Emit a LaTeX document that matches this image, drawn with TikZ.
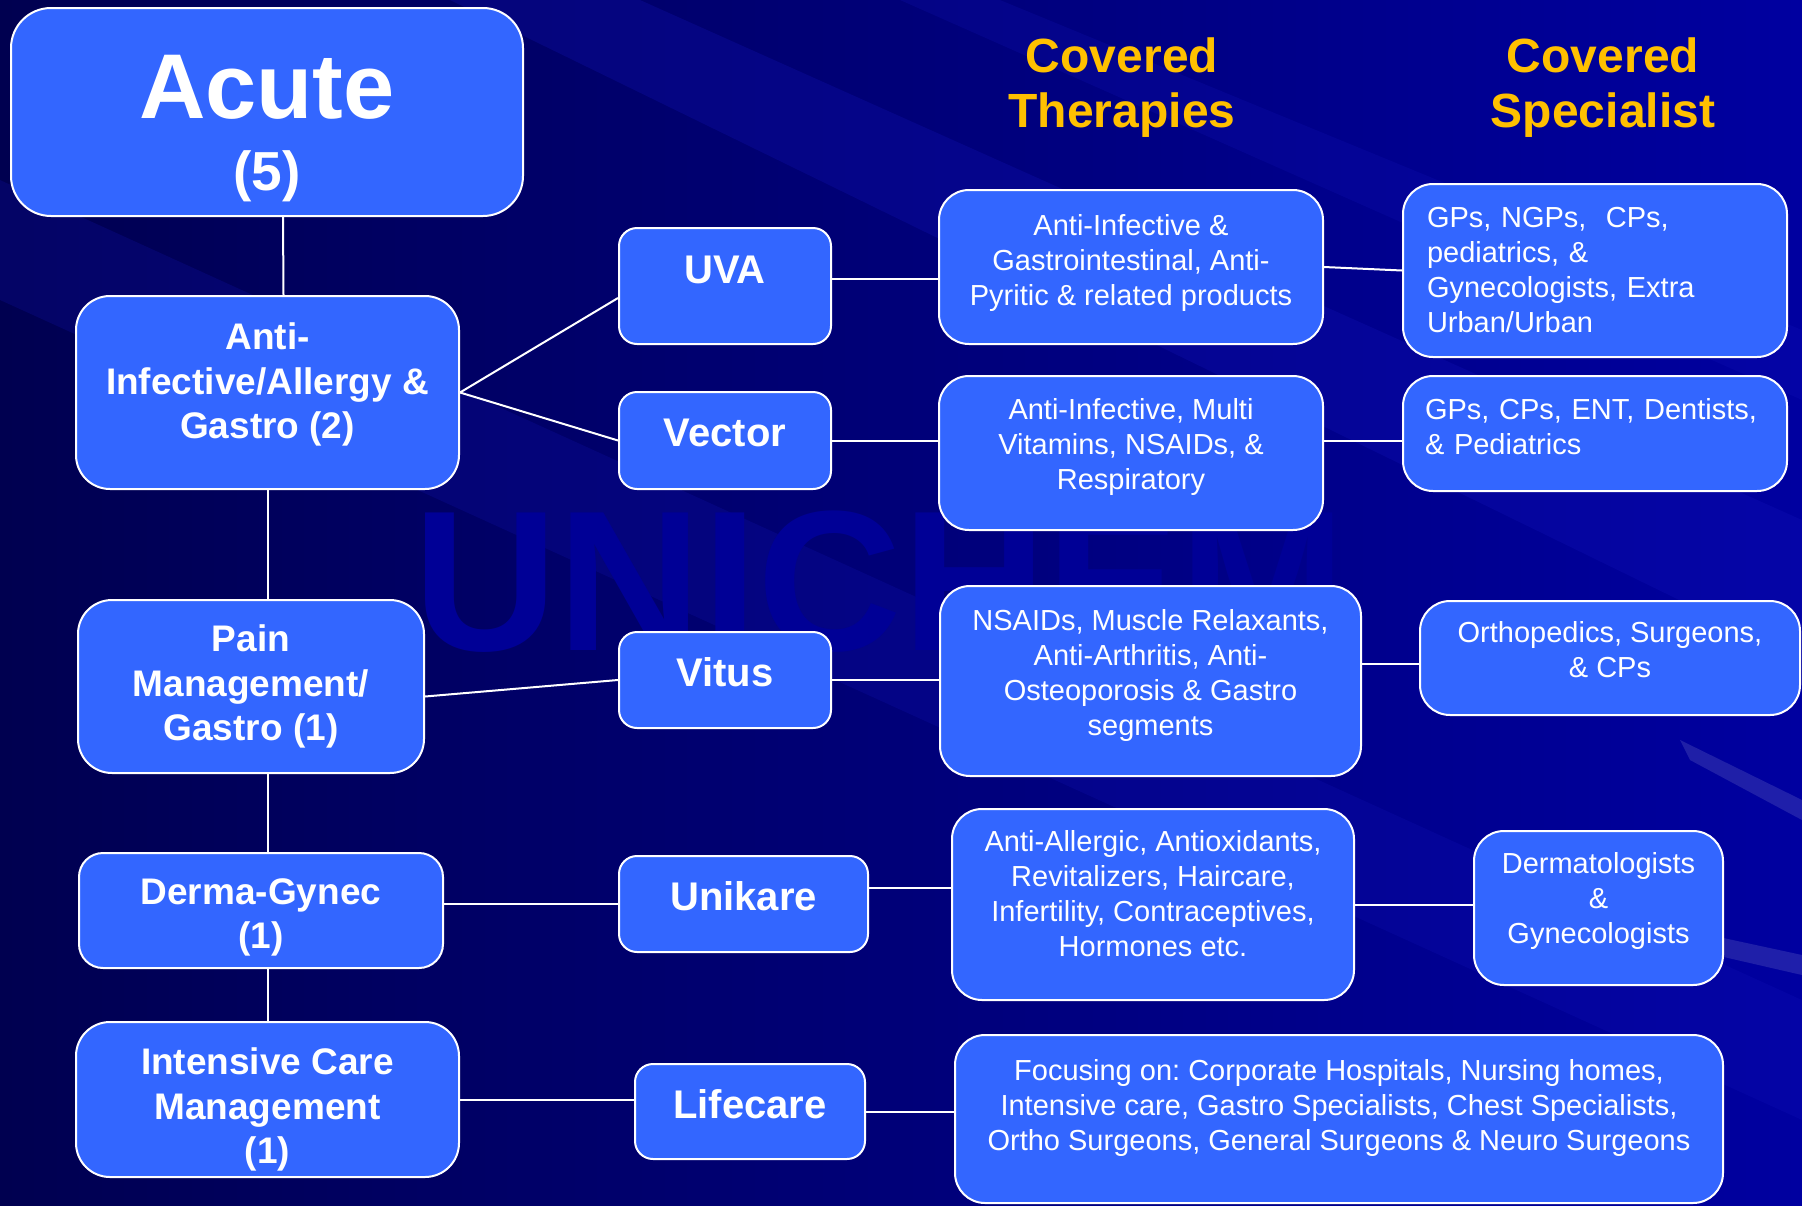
\documentclass[tikz,border=0pt]{standalone}
\usepackage{fontspec}
\setmainfont{Liberation Sans}
\usetikzlibrary{calc}
\frenchspacing

\definecolor{navydark}{RGB}{0,0,80}
\definecolor{navylight}{RGB}{0,0,160}
\definecolor{streakblue}{RGB}{20,20,190}
\definecolor{boxblue}{RGB}{51,102,255}
\definecolor{gold}{RGB}{255,192,0}
\definecolor{markblue}{RGB}{0,0,150}

\newcommand\padbelow[1]{\rule[-#1]{0pt}{#1}}
\newcommand\padabove[1]{\rule{0pt}{#1}}

\begin{document}
\begin{tikzpicture}[x=1pt, y=-1pt,
    divbox/.style={font=\bfseries\fontsize{37}{44.5}\selectfont, rounded corners=34pt},
    brandbox/.style={font=\bfseries\fontsize{40}{48}\selectfont, text depth=16pt, rounded corners=18pt, minimum width=212pt},
    infobox/.style={font=\fontsize{29}{35}\selectfont, rounded corners=30pt},
    heading/.style={text=gold, font=\bfseries\fontsize{48}{55}\selectfont, align=center}]

        % background
        \shade[left color=navydark, right color=navylight] (0,0) rectangle (1802,1205);
        \fill[streakblue, opacity=0.25] (450,0) -- (640,0) -- (1802,520) -- (1802,660) -- cycle;
        \fill[streakblue, opacity=0.20] (900,0) -- (1000,0) -- (1802,330) -- (1802,400) -- cycle;
        \fill[streakblue, opacity=0.20] (0,180) -- (0,300) -- (1802,1120) -- (1802,1000) -- cycle;
        \fill[white, opacity=0.12] (1680,740) -- (1802,800) -- (1802,820) -- (1690,760) -- cycle;
        \fill[white, opacity=0.12] (1640,920) -- (1802,955) -- (1802,975) -- (1650,940) -- cycle;
        \node[text=markblue, font=\bfseries\fontsize{200}{200}\selectfont] (mark) at (880,582) {UNICHEM};
        \useasboundingbox (0,0) rectangle (1802,1205);

        \node[heading] (hther) at (1122,88) {Covered\\Therapies};
        \node[heading] (hspec) at (1603,88) {Covered\\Specialist};

        \begin{scope}[every node/.style={draw=white, line width=2pt, fill=boxblue, text=white, inner sep=0pt, align=center}]
                % divisions
                \node[font=\bfseries\fontsize{55}{72.5}\selectfont, rounded corners=40pt, minimum width=512pt, minimum height=208pt] (Acute) at (267,112) {\padabove{96pt}\fontsize{92}{92}\selectfont Acute\\(5)};
                \node[divbox, minimum width=383pt, minimum height=193pt] (Anti) at (267.5,392.5) {Anti-\\Infective/Allergy \&\\Gastro (2)\padbelow{23pt}};
                \node[divbox, minimum width=346pt, minimum height=173pt] (Pain) at (251,686.5) {Pain\\Management/\\Gastro (1)};
                \node[divbox, rounded corners=24pt, minimum width=364pt, minimum height=115pt] (Derma) at (261,910.5) {\padabove{39.5pt}Derma-Gynec\\(1)};
                \node[divbox, minimum width=383pt, minimum height=155pt] (ICM) at (267.5,1099.5) {\padabove{47pt}Intensive Care\\Management\\(1)};
                % brands
                \node[brandbox, text depth=32pt, minimum height=116pt] (UVA) at (725,286) {UVA};
                \node[brandbox, minimum height=97pt] (Vector) at (725,440.5) {Vector};
                \node[brandbox, minimum height=96pt] (Vitus) at (725,680) {Vitus};
                \node[brandbox, minimum width=249pt, minimum height=96pt] (Unikare) at (743.5,904) {Unikare};
                \node[brandbox, minimum width=230pt, minimum height=95pt] (Lifecare) at (750,1111.5) {Lifecare};
                % therapies
                \node[infobox, minimum width=384pt, minimum height=154pt] (T1) at (1131,267) {Anti-Infective \&\\Gastrointestinal, Anti-\\Pyritic \& related products\padbelow{15pt}};
                \node[infobox, minimum width=384pt, minimum height=154pt] (T2) at (1131,453) {Anti-Infective, Multi\\Vitamins, NSAIDs, \&\\Respiratory\padbelow{18pt}};
                \node[infobox, minimum width=421pt, minimum height=190pt] (T3) at (1150.5,681) {NSAIDs, Muscle Relaxants,\\Anti-Arthritis, Anti-\\Osteoporosis \& Gastro\\segments\padbelow{17pt}};
                \node[infobox, minimum width=402pt, minimum height=191pt] (T4) at (1153,904.5) {Anti-Allergic, Antioxidants,\\Revitalizers, Haircare,\\Infertility, Contraceptives,\\Hormones etc.\padbelow{23pt}};
                \node[infobox, minimum width=768pt, minimum height=168pt] (T5) at (1339,1119) {Focusing on: Corporate Hospitals, Nursing homes,\\Intensive care, Gastro Specialists, Chest Specialists,\\Ortho Surgeons, General Surgeons \& Neuro Surgeons\padbelow{28pt}};
                % specialists
                \node[infobox, text width=336pt, align=left, minimum width=384pt, minimum height=173pt] (S1) at (1595,270.5) {GPs, NGPs,~ CPs,\\pediatrics, \&\\Gynecologists, Extra\\Urban/Urban};
                \node[infobox, text width=340pt, align=left, minimum width=384pt, minimum height=115pt] (S2) at (1595,433.5) {GPs, CPs, ENT, Dentists,\\\& Pediatrics\padbelow{15pt}};
                \node[infobox, minimum width=380pt, minimum height=114pt] (S3) at (1610,658) {Orthopedics, Surgeons,\\\& CPs\padbelow{18pt}};
                \node[infobox, minimum width=249pt, minimum height=154pt] (S4) at (1598.5,908) {Dermatologists\\\&\\Gynecologists\padbelow{21pt}};
        \end{scope}

        \begin{scope}[every path/.style={draw=white, line width=2pt}]
                \path ($(Acute.south)+(16,0)$) edge ($(Anti.north)+(16,0)$);
                \path (Anti.east) edge ($(UVA.west)+(0,12)$);
                \path (Anti.east) edge (Vector.west);
                \path (Anti.south) edge (Anti.south |- Pain.north);
                \path (Anti.south |- Pain.south) edge (Anti.south |- Derma.north);
                \path (Anti.south |- Derma.south) edge (ICM.north);
                \path ($(Pain.east)+(0,10)$) edge (Vitus.west);
                \path (Unikare.west -| Derma.east) edge (Unikare.west);
                \path (ICM.east) edge (ICM.east -| Lifecare.west);
                \path ($(UVA.east)+(0,-7)$) edge ($(T1.west)+(0,12)$);
                \path (Vector.east) edge (Vector.east -| T2.west);
                \path (Vitus.east) edge (Vitus.east -| T3.west);
                \path ($(Unikare.east)+(0,-16)$) edge ($(T4.west)+(0,-16.5)$);
                \path (Lifecare.east) edge (Lifecare.east -| T5.west);
                \path (T1.east) edge (S1.west);
                \path (Vector.east -| T2.east) edge (Vector.east -| S2.west);
                \path ($(T3.east)+(0,-17)$) edge ($(S3.west)+(0,6)$);
                \path (T4.east) edge (T4.east -| S4.west);
        \end{scope}
\end{tikzpicture}
\end{document}
